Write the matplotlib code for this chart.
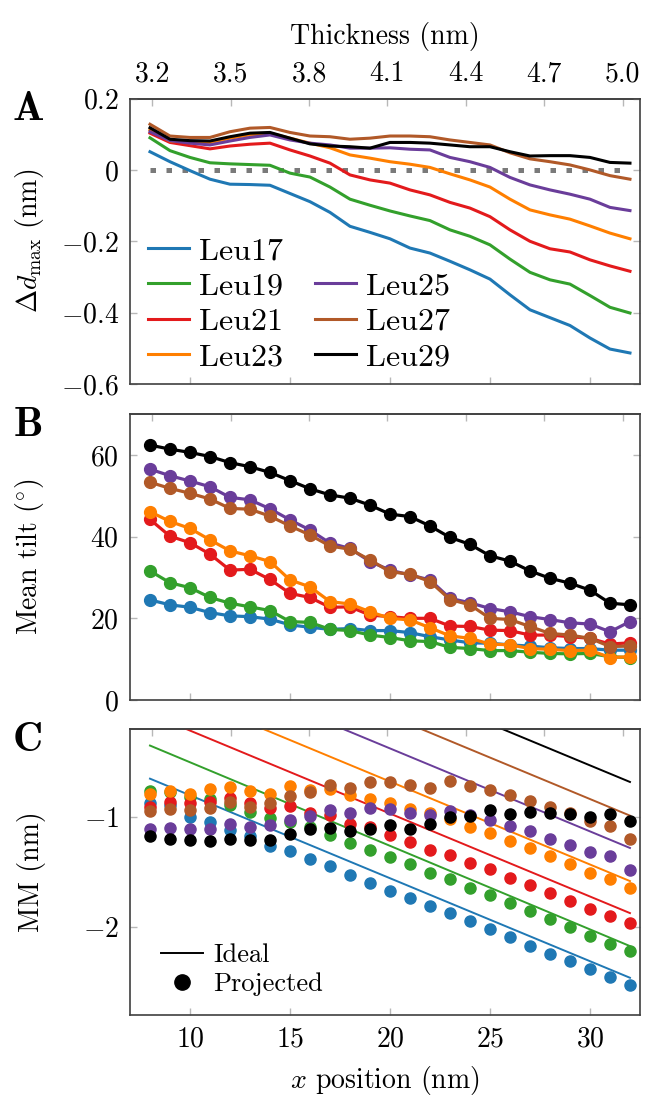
import matplotlib
matplotlib.use("Agg")
import matplotlib.pyplot as plt
from matplotlib.lines import Line2D

plt.rcParams["font.family"] = "serif"
plt.rcParams["font.serif"] = ["cmr10"]
plt.rcParams["mathtext.fontset"] = "cm"
plt.rcParams["axes.formatter.use_mathtext"] = True

# x positions (nm) shared by all panels
x_pos = list(range(8, 33))

labels = ["Leu17", "Leu19", "Leu21", "Leu23", "Leu25", "Leu27", "Leu29"]
colors = ["#1f78b4", "#33a02c", "#e31a1c", "#ff7f00", "#6a3d9a", "#b15928", "#000000"]

# panel A: delta d_max (nm)
dmax_17 = [0.051, 0.023, -0.002, -0.026, -0.040, -0.041, -0.043, -0.066, -0.089, -0.119, -0.158, -0.175, -0.193,
           -0.219, -0.233, -0.256, -0.280, -0.306, -0.350, -0.392, -0.414, -0.436, -0.471, -0.502, -0.513]
dmax_19 = [0.090, 0.054, 0.035, 0.020, 0.017, 0.015, 0.013, -0.009, -0.020, -0.048, -0.082, -0.099, -0.115,
           -0.129, -0.142, -0.168, -0.186, -0.210, -0.250, -0.287, -0.308, -0.320, -0.352, -0.385, -0.401]
dmax_21 = [0.103, 0.077, 0.068, 0.059, 0.067, 0.072, 0.075, 0.056, 0.039, 0.019, -0.014, -0.028, -0.037,
           -0.056, -0.070, -0.091, -0.107, -0.131, -0.168, -0.200, -0.221, -0.230, -0.252, -0.269, -0.284]
dmax_23 = [0.112, 0.081, 0.079, 0.076, 0.089, 0.098, 0.103, 0.089, 0.075, 0.062, 0.042, 0.033, 0.023,
           0.016, 0.007, -0.011, -0.028, -0.048, -0.082, -0.112, -0.126, -0.138, -0.157, -0.177, -0.193]
dmax_25 = [0.107, 0.082, 0.075, 0.070, 0.081, 0.091, 0.098, 0.084, 0.075, 0.070, 0.061, 0.061, 0.062,
           0.058, 0.056, 0.035, 0.023, 0.007, -0.021, -0.042, -0.056, -0.068, -0.082, -0.105, -0.114]
dmax_27 = [0.128, 0.095, 0.091, 0.091, 0.107, 0.117, 0.119, 0.105, 0.095, 0.093, 0.086, 0.089, 0.095,
           0.095, 0.093, 0.084, 0.077, 0.070, 0.048, 0.031, 0.023, 0.014, 0.000, -0.016, -0.026]
dmax_29 = [0.118, 0.086, 0.082, 0.081, 0.093, 0.103, 0.105, 0.089, 0.073, 0.067, 0.065, 0.061, 0.077,
           0.077, 0.075, 0.070, 0.065, 0.065, 0.051, 0.039, 0.040, 0.040, 0.035, 0.021, 0.019]
dmax = [dmax_17, dmax_19, dmax_21, dmax_23, dmax_25, dmax_27, dmax_29]

# panel B: mean tilt (deg)
tilt_17 = [24.5, 23.3, 22.7, 21.4, 20.6, 20.4, 19.8, 18.4, 17.8, 17.3, 17.5, 17.0, 17.0,
           16.5, 15.5, 14.7, 14.0, 13.9, 13.5, 13.2, 12.8, 12.6, 12.6, 12.2, 12.2]
tilt_19 = [31.6, 28.7, 27.5, 25.1, 23.7, 22.8, 21.9, 19.2, 19.0, 17.3, 17.0, 15.9, 15.3,
           14.5, 14.3, 12.9, 12.6, 12.1, 12.1, 11.7, 11.4, 11.3, 11.4, 10.6, 10.4]
tilt_21 = [44.2, 40.1, 38.5, 35.7, 31.8, 32.0, 29.5, 26.1, 25.1, 22.7, 22.8, 20.8, 20.4,
           20.0, 20.0, 18.1, 18.0, 17.1, 17.0, 15.9, 15.9, 15.5, 15.1, 13.7, 14.0]
tilt_23 = [46.1, 43.7, 42.0, 39.2, 36.5, 35.3, 33.9, 29.4, 27.7, 24.1, 23.5, 21.6, 20.0,
           19.6, 17.7, 15.7, 15.1, 13.7, 13.5, 12.6, 12.4, 12.1, 12.2, 10.4, 10.6]
tilt_25 = [56.5, 54.9, 53.6, 52.2, 49.6, 49.0, 46.8, 44.1, 41.6, 38.4, 37.1, 33.9, 31.8,
           30.6, 29.4, 24.9, 23.8, 22.4, 21.6, 20.4, 19.7, 18.9, 18.6, 16.7, 19.2]
tilt_27 = [53.3, 51.8, 50.6, 49.2, 46.9, 46.7, 45.0, 42.6, 40.4, 37.7, 36.9, 34.3, 31.4,
           30.8, 29.0, 24.6, 23.3, 20.0, 19.7, 18.0, 16.3, 15.9, 15.1, 13.1, 13.2]
tilt_29 = [62.4, 61.4, 60.6, 59.6, 58.1, 57.1, 55.7, 53.7, 51.7, 50.2, 49.4, 47.7, 45.5,
           44.9, 42.6, 39.8, 38.1, 35.3, 34.0, 31.6, 29.8, 28.6, 26.9, 23.7, 23.3]
tilt = [tilt_17, tilt_19, tilt_21, tilt_23, tilt_25, tilt_27, tilt_29]

# panel C: projected MM (nm)
mm_17 = [-0.871, -0.890, -0.997, -1.042, -1.117, -1.177, -1.261, -1.312, -1.381, -1.447, -1.529, -1.598, -1.673,
         -1.739, -1.814, -1.874, -1.943, -2.018, -2.093, -2.174, -2.243, -2.312, -2.384, -2.453, -2.528]
mm_19 = [-0.763, -0.770, -0.823, -0.841, -0.892, -0.952, -1.012, -1.042, -1.087, -1.162, -1.237, -1.297, -1.363,
         -1.432, -1.508, -1.568, -1.643, -1.709, -1.784, -1.859, -1.928, -2.003, -2.078, -2.153, -2.222]
mm_21 = [-0.913, -0.862, -0.877, -0.862, -0.832, -0.877, -0.922, -0.901, -0.961, -0.982, -1.063, -1.093, -1.162,
         -1.231, -1.303, -1.342, -1.417, -1.477, -1.553, -1.619, -1.688, -1.763, -1.838, -1.898, -1.964]
mm_23 = [-0.793, -0.766, -0.787, -0.748, -0.727, -0.763, -0.787, -0.721, -0.751, -0.748, -0.802, -0.838, -0.871,
         -0.931, -0.967, -1.021, -1.093, -1.147, -1.222, -1.282, -1.357, -1.426, -1.508, -1.568, -1.643]
mm_25 = [-1.111, -1.102, -1.111, -1.111, -1.066, -1.093, -1.072, -1.027, -0.991, -0.937, -0.967, -0.922, -0.931,
         -0.967, -0.982, -0.943, -0.982, -1.027, -1.081, -1.132, -1.198, -1.252, -1.318, -1.357, -1.483]
mm_27 = [-0.946, -0.931, -0.937, -0.922, -0.862, -0.907, -0.871, -0.811, -0.772, -0.706, -0.733, -0.682, -0.682,
         -0.712, -0.736, -0.676, -0.718, -0.751, -0.802, -0.853, -0.913, -0.961, -1.036, -1.078, -1.201]
mm_29 = [-1.177, -1.198, -1.213, -1.219, -1.198, -1.213, -1.207, -1.156, -1.111, -1.102, -1.126, -1.111, -1.075,
         -1.111, -1.066, -1.003, -0.991, -0.937, -0.973, -0.952, -0.961, -0.976, -0.997, -0.976, -1.036]
mm = [mm_17, mm_19, mm_21, mm_23, mm_25, mm_27, mm_29]

# ideal MM lines, values at x = 8 and x = 32
ideal_x = [8, 32]
ideal_start = [-0.652, -0.351, -0.064, 0.227, 0.528, 0.822, 1.128]
ideal_end = [-2.462, -2.174, -1.874, -1.583, -1.282, -0.988, -0.682]

thick_ticks = [3.2, 3.5, 3.8, 4.1, 4.4, 4.7, 5.0]
x_ticks = [10, 15, 20, 25, 30]

SPINE = "#404040"
TICK = "#b8b8b8"
FS = 20


def x_to_t(x):
    return 3.2 + (x - 8.12) / 13.06


def t_to_x(t):
    return 8.12 + (t - 3.2) * 13.06


fig = plt.figure(figsize=(6.48, 10.95), dpi=100)
left, width = 0.2006, 0.787
axA = fig.add_axes([left, 0.6493, width, 0.2607])
axB = fig.add_axes([left, 0.3607, width, 0.2612])
axC = fig.add_axes([left, 0.0731, width, 0.2612])

for ax in (axA, axB, axC):
    ax.set_xlim(7, 32.5)
    ax.set_xticks(x_ticks)
    for s in ax.spines.values():
        s.set_color(SPINE)
        s.set_linewidth(1.2)
    ax.tick_params(direction="in", length=5, width=1, color=TICK, labelsize=FS,
                   left=True, right=True, top=False, bottom=True, pad=8)
    sec = ax.secondary_xaxis("top", functions=(x_to_t, t_to_x))
    sec.set_xticks(thick_ticks)
    sec.tick_params(direction="in", length=5, width=1, color=TICK, labelsize=FS, pad=8)
    sec.spines["top"].set_color(SPINE)
    sec.spines["top"].set_linewidth(1.2)
    if ax is axA:
        sec.set_xticklabels([f"{t:.1f}" for t in thick_ticks])
        sec.set_xlabel("Thickness (nm)", fontsize=FS, labelpad=12)
    else:
        sec.set_xticklabels([])
    if ax is not axC:
        ax.set_xticklabels([])

# panel A
axA.plot([8, 32], [0, 0], color="#7a7a7a", lw=3.6, dashes=(1.1, 2.1), zorder=1)
handles = []
for vals, c, lab in zip(dmax, colors, labels):
    (h,) = axA.plot(x_pos, vals, color=c, lw=2.2, label=lab, zorder=2)
    handles.append(h)
axA.set_ylim(-0.6, 0.2)
axA.set_yticks([-0.6, -0.4, -0.2, 0, 0.2])
axA.set_yticklabels([r"$-0.6$", r"$-0.4$", r"$-0.2$", r"$0$", r"$0.2$"])
axA.set_ylabel(r"$\Delta d_{\mathrm{max}}$ (nm)", fontsize=FS)
blank = Line2D([], [], color="none")
leg_h = handles[:4] + [blank] + handles[4:]
leg_l = labels[:4] + [""] + labels[4:]
axA.legend(leg_h, leg_l, ncol=2, loc="lower left", bbox_to_anchor=(0.035, 0.045),
           frameon=False, fontsize=23, handlelength=1.3, handletextpad=0.3,
           labelspacing=0.22, columnspacing=1.0, borderpad=0, borderaxespad=0)

# panel B
for vals, c in zip(tilt, colors):
    axB.plot(x_pos, vals, color=c, lw=2.3, marker="o", ms=8.5, mec=c, mfc=c)
axB.set_ylim(0, 70)
axB.set_yticks([0, 20, 40, 60])
axB.set_yticklabels([r"$0$", r"$20$", r"$40$", r"$60$"])
axB.set_ylabel(r"Mean tilt ($^{\circ}$)", fontsize=FS)

# panel C
for s0, s1, c in zip(ideal_start, ideal_end, colors):
    axC.plot(ideal_x, [s0, s1], color=c, lw=1.4)
for vals, c in zip(mm, colors):
    axC.plot(x_pos, vals, ls="none", marker="o", ms=8, mec=c, mfc=c)
axC.set_ylim(-2.8, -0.2)
axC.set_yticks([-2, -1])
axC.set_yticklabels([r"$-2$", r"$-1$"])
axC.set_ylabel("MM (nm)", fontsize=FS)
axC.set_xticklabels([f"${t}$" for t in x_ticks])
axC.set_xlabel(r"$x$ position (nm)", fontsize=FS, labelpad=8)
ideal_h = Line2D([], [], color="black", lw=1.4)
proj_h = Line2D([], [], ls="none", marker="o", ms=11, color="black")
axC.legend([ideal_h, proj_h], ["Ideal", "Projected"], loc="lower left",
           bbox_to_anchor=(0.06, 0.065), frameon=False, fontsize=19,
           handlelength=1.6, handletextpad=0.4, labelspacing=0.2,
           borderpad=0, borderaxespad=0)

for ax in (axA, axB, axC):
    ax.yaxis.set_label_coords(-0.165, 0.5)

for ax, letter in zip((axA, axB, axC), "ABC"):
    ax.text(-0.2, 1.025, letter, transform=ax.transAxes, fontsize=30,
            family="cmb10", ha="center", va="top")

fig.savefig("out.png", dpi=100)
